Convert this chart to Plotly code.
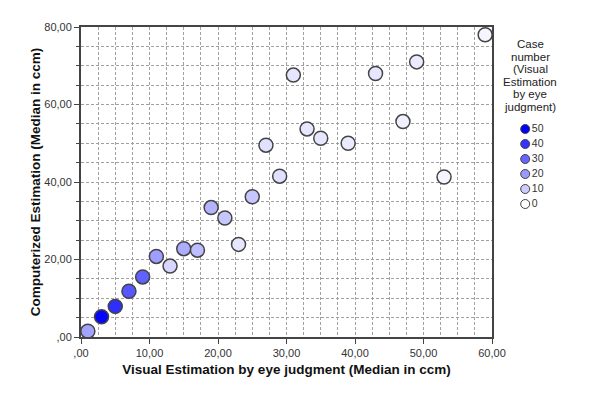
import plotly.graph_objects as go
# ---------------------------------------------------------------------------

# data
visual = [1, 3, 5, 7, 9, 11, 13, 15, 17, 19, 21, 23, 25, 27, 29,
          31, 33, 35, 39, 43, 47, 49, 53, 59]
computed = [1.5, 5.2, 7.9, 11.8, 15.5, 20.8, 18.3, 22.8, 22.4, 33.4, 30.7, 23.9, 36.2, 49.5, 41.5,
            67.6, 53.7, 51.3, 50.0, 68.0, 55.6, 71.0, 41.3, 78.0]
case_number = [18, 49, 41, 33, 31, 19, 8, 16, 13, 15, 11, 5, 11, 6, 6,
               5, 5, 5, 4, 5, 3, 4, 2, 2]
legend_values = [50, 40, 30, 20, 10, 0]
legend_title = ["Case", "number", "(Visual", "Estimation", "by eye", "judgment)"]

x_ticks = [0, 10, 20, 30, 40, 50, 60]
x_labels = [",00", "10,00", "20,00", "30,00", "40,00", "50,00", "60,00"]
y_ticks = [0, 20, 40, 60, 80]
y_labels = [",00", "20,00", "40,00", "60,00", "80,00"]

scale = [[0, "#ffffff"], [1, "#0000ff"]]
W, H = 600, 411
# ---------------------------------------------------------------------------

fig = go.Figure()

# main scatter
fig.add_trace(go.Scatter(
  x=visual, y=computed, mode="markers", showlegend=False, hoverinfo="x+y",
  marker=dict(size=14, color=case_number, colorscale=scale, cmin=0, cmax=50,
              line=dict(color="#444444", width=1.5)),
))

# legend drawn on its own small axes
fig.add_trace(go.Scatter(
  x=[0.17] * len(legend_values), y=legend_values, xaxis="x2", yaxis="y2",
  mode="markers+text", text=[str(v) for v in legend_values],
  textposition="middle right", textfont=dict(size=10.5, color="#333333"),
  showlegend=False, hoverinfo="skip", cliponaxis=False,
  marker=dict(size=9, color=legend_values, colorscale=scale, cmin=0, cmax=50,
              line=dict(color="#444444", width=1)),
))

# legend title lines
for i, line in enumerate(legend_title):
  fig.add_annotation(
    x=530 / W, y=(H - 44 - i * 12.6) / H, xref="paper", yref="paper",
    text=line, showarrow=False, xanchor="center", yanchor="middle",
    font=dict(size=11.5, color="#222222"),
  )

grid = dict(showgrid=True, gridcolor="#a0a0a0", griddash="3px,2px", gridwidth=1)

# custom layout
fig.update_layout(
  width=W, height=H,
  margin=dict(l=0, r=0, t=0, b=0, autoexpand=False),
  paper_bgcolor="white", plot_bgcolor="white",
  font=dict(family="Liberation Sans, Arial, sans-serif", size=11, color="#333333"),
  showlegend=False,
  xaxis=dict(
    domain=[81 / W, 492 / W], range=[0, 60], tickvals=x_ticks, ticktext=x_labels,
    ticks="outside", ticklen=5, tickcolor="#444444", automargin=False,
    minor=dict(dtick=2.5, tick0=0, showgrid=True, gridcolor="#a0a0a0", griddash="3px,2px"),
    showline=True, linecolor="#444444", linewidth=2, mirror=True,
    zeroline=False,
    title=dict(text="<b>Visual Estimation by eye judgment (Median in ccm)</b>",
               font=dict(size=13.5, color="#111111"), standoff=6),
    **grid,
  ),
  yaxis=dict(
    domain=[(H - 337) / H, (H - 27) / H], range=[0, 80], tickvals=y_ticks, ticktext=y_labels,
    ticks="outside", ticklen=5, tickcolor="#444444", automargin=False,
    minor=dict(dtick=5, tick0=0, ticks="outside", ticklen=3, tickcolor="#444444",
               showgrid=True, gridcolor="#a0a0a0", griddash="3px,2px"),
    showline=True, linecolor="#444444", linewidth=2, mirror=True,
    zeroline=False,
    title=dict(text="<b>Computerized Estimation (Median in ccm)</b>",
               font=dict(size=13.5, color="#111111"), standoff=1),
    **grid,
  ),
  xaxis2=dict(domain=[515 / W, 575 / W], range=[0, 1], visible=False, anchor="y2", automargin=False),
  yaxis2=dict(domain=[(H - 211.5) / H, (H - 121.5) / H], range=[-5, 55], visible=False,
              anchor="x2", automargin=False),
)

# drop the default page margin so the figure sits at the window corner
fig.write_html("out.html", config={"displayModeBar": False},
               post_script="document.body.style.margin='0';")
